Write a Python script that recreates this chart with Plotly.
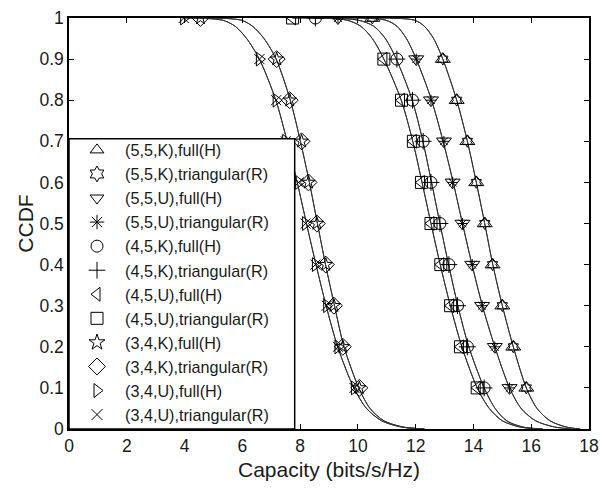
import plotly.graph_objects as go

# CCDF levels at which markers are placed
marker_ccdf = [1.0, 0.9, 0.8, 0.7, 0.6, 0.5, 0.4, 0.3, 0.2, 0.1]
# CCDF levels of the traced curve points
line_ccdf = [1.0, 0.995, 0.98, 0.95, 0.9, 0.8, 0.7, 0.6, 0.5, 0.4, 0.3, 0.2, 0.1, 0.05, 0.02, 0.005, 0.0]

# capacity values (bits/s/Hz) read at the marker levels
m55K = [10.50, 12.94, 13.42, 13.79, 14.10, 14.39, 14.66, 15.00, 15.38, 15.83]
m55U = [9.31, 12.02, 12.53, 12.98, 13.28, 13.62, 13.96, 14.30, 14.74, 15.25]
m45K = [8.53, 11.35, 11.89, 12.26, 12.53, 12.84, 13.15, 13.45, 13.79, 14.37]
m45U = [7.74, 10.90, 11.51, 11.92, 12.20, 12.53, 12.87, 13.21, 13.55, 14.13]
m34K = [4.55, 7.19, 7.64, 8.05, 8.29, 8.58, 8.89, 9.17, 9.48, 10.05]
m34U = [3.97, 6.59, 7.17, 7.50, 7.95, 8.19, 8.53, 8.92, 9.31, 9.88]

# capacity values at line_ccdf levels
l55K = [10.50, 11.95, 12.30, 12.62, 12.94, 13.42, 13.79, 14.10, 14.39, 14.67, 15.00, 15.38, 15.83, 16.20, 16.65, 17.20, 17.7]
l55U = [9.31, 10.95, 11.35, 11.68, 12.02, 12.55, 12.95, 13.30, 13.62, 13.95, 14.31, 14.74, 15.25, 15.65, 16.15, 16.80, 17.4]
l45K = [8.53, 10.00, 10.55, 10.95, 11.33, 11.88, 12.25, 12.55, 12.84, 13.14, 13.46, 13.84, 14.37, 14.75, 15.15, 15.70, 16.4]
l45U = [7.74, 9.60, 10.10, 10.50, 10.90, 11.50, 11.90, 12.22, 12.53, 12.85, 13.20, 13.60, 14.13, 14.55, 15.00, 15.60, 16.3]
l34K = [4.55, 5.95, 6.35, 6.75, 7.17, 7.66, 8.01, 8.32, 8.60, 8.88, 9.19, 9.52, 10.03, 10.42, 10.90, 11.55, 12.3]
l34U = [3.97, 5.30, 5.75, 6.15, 6.59, 7.16, 7.55, 7.90, 8.22, 8.55, 8.90, 9.30, 9.86, 10.30, 10.82, 11.50, 12.3]

series_names = [
    "(5,5,K),full(H)", "(5,5,K),triangular(R)",
    "(5,5,U),full(H)", "(5,5,U),triangular(R)",
    "(4,5,K),full(H)", "(4,5,K),triangular(R)",
    "(4,5,U),full(H)", "(4,5,U),triangular(R)",
    "(3,4,K),full(H)", "(3,4,K),triangular(R)",
    "(3,4,U),full(H)", "(3,4,U),triangular(R)",
]
series_symbols = [
    "triangle-up-open", "hexagram-open",
    "triangle-down-open", "asterisk-open",
    "circle-open", "cross-thin-open",
    "triangle-left-open", "square-open",
    "star-open", "diamond-open",
    "triangle-right-open", "x-thin-open",
]
series_sizes = [13, 9, 13, 9, 12, 12, 12, 12, 10, 13, 12, 10]
legend_sizes = [12, 12, 12, 12, 12, 12, 12, 12, 12, 13, 12, 11]
series_markers = [m55K, m55K, m55U, m55U, m45K, m45K, m45U, m45U, m34K, m34K, m34U, m34U]
series_lines = [l55K, l55K, l55U, l55U, l45K, l45K, l45U, l45U, l34K, l34K, l34U, l34U]

fig = go.Figure()

for xs in series_lines:
    fig.add_trace(go.Scatter(
        x=xs, y=line_ccdf, mode="lines",
        line=dict(color="#333333", width=1, shape="spline", smoothing=0.8),
        showlegend=False, hoverinfo="skip",
    ))

for name, sym, sz, xs in zip(series_names, series_symbols, series_sizes, series_markers):
    fig.add_trace(go.Scatter(
        x=xs, y=marker_ccdf, mode="markers", name=name, legendgroup=name,
        marker=dict(symbol=sym, size=sz, color="black",
                    line=dict(color="black", width=1)),
        showlegend=False,
    ))

# legend entries (symbols only, uniform size as in the original legend)
for name, sym, sz in zip(series_names, series_symbols, legend_sizes):
    fig.add_trace(go.Scatter(
        x=[None], y=[None], mode="markers", name=name, legendgroup=name,
        marker=dict(symbol=sym, size=sz, color="black",
                    line=dict(color="black", width=1)),
        showlegend=True,
    ))

font_family = "Liberation Sans, Arial, Helvetica, sans-serif"

# legend frame (white box covering the curves behind the legend)
fig.add_shape(type="rect", xref="paper", yref="paper",
              x0=0, x1=0.434, y0=0, y1=0.706, layer="above",
              fillcolor="white", line=dict(color="black", width=1.5))

fig.update_layout(
    width=607, height=490,
    margin=dict(l=69, r=8, t=14, b=61),
    paper_bgcolor="white", plot_bgcolor="white",
    font=dict(family=font_family, size=17.5, color="#1a1a1a"),
    legend=dict(
        x=0, y=0.7205, xanchor="left", yanchor="top",
        bgcolor="rgba(0,0,0,0)", borderwidth=0,
        font=dict(size=16.2, family=font_family, color="#1a1a1a"),
        itemwidth=46, tracegroupgap=0,
    ),
    xaxis=dict(
        range=[0, 18], dtick=2, tick0=0,
        showgrid=False, zeroline=False,
        showline=True, linecolor="black", linewidth=1.5, mirror="ticks",
        ticks="inside", ticklen=5, tickcolor="black",
        title=dict(text="Capacity (bits/s/Hz)", font=dict(size=21), standoff=8),
    ),
    yaxis=dict(
        range=[0, 1], dtick=0.1, tick0=0,
        showgrid=False, zeroline=False,
        showline=True, linecolor="black", linewidth=1.5, mirror="ticks",
        ticks="inside", ticklen=5, tickcolor="black",
        title=dict(text="CCDF", font=dict(size=21), standoff=0),
    ),
)

fig.write_html("out.html")
